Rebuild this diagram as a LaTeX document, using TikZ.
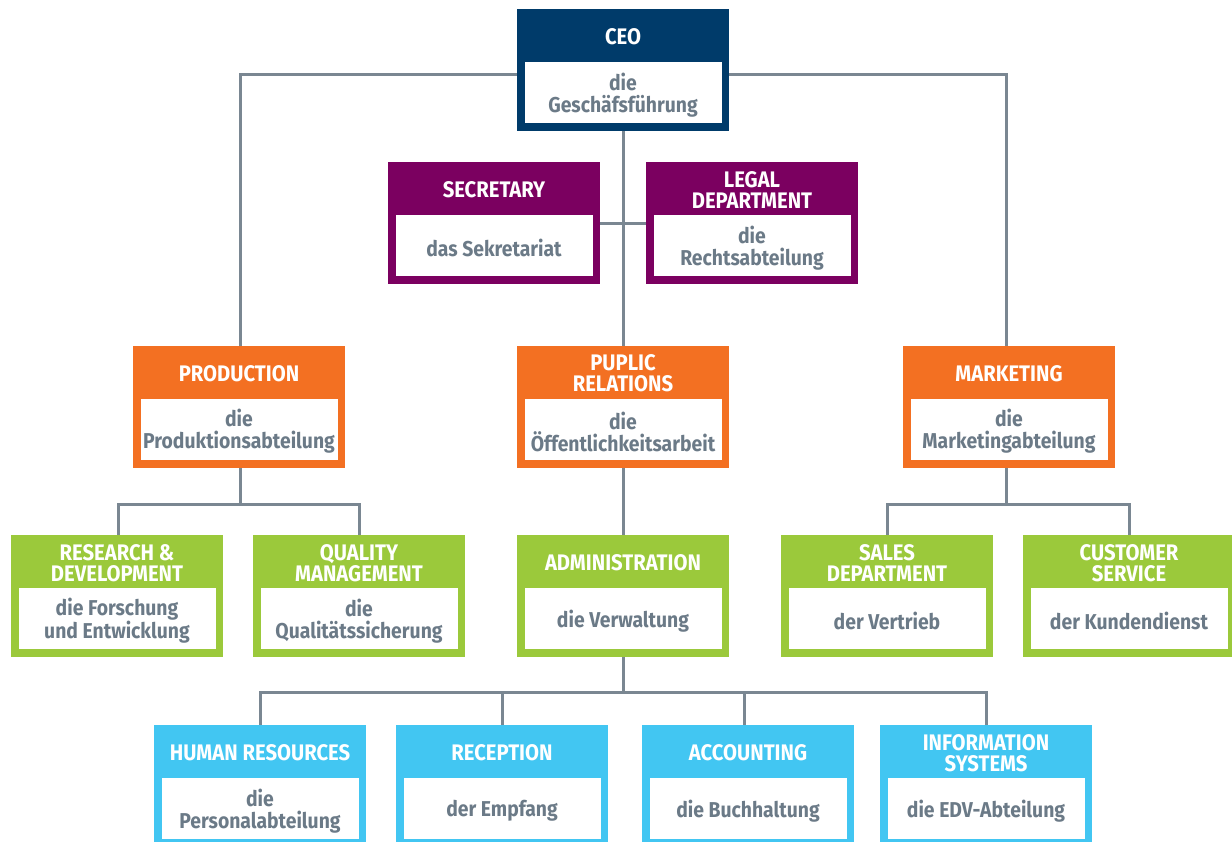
\documentclass[tikz,border=0pt]{standalone}
\usepackage{fontspec}
\setmainfont{Fira Sans}[FakeStretch=0.9]
\usetikzlibrary{positioning}

\definecolor{ceoblue}{HTML}{003B6A}
\definecolor{staffpurple}{HTML}{7B0060}
\definecolor{deptorange}{HTML}{F37022}
\definecolor{unitgreen}{HTML}{9BC93B}
\definecolor{teamcyan}{HTML}{42C6F2}
\definecolor{textgray}{HTML}{6B7A87}
\definecolor{linegray}{HTML}{7A8792}

\tikzset{
  unit/.style={rectangle, minimum width=212pt, minimum height=122pt, inner sep=0pt},
  plate/.style={rectangle, fill=white, minimum width=197pt, minimum height=61pt, inner sep=0pt},
  sub/.style={align=center, text=textgray, inner sep=0pt,
    font=\bfseries\fontsize{21.5}{22}\selectfont},
  head/.style={align=center, text=white, inner sep=0pt,
    font=\bfseries\fontsize{22.5}{21}\selectfont},
  link/.style={linegray, line width=3pt},
}

% name, centre, colour, english title, german subtitle
\newcommand{\unitbox}[5]{%
  \node[unit, fill=#3] (#1) at (#2) {};
  \node[plate, above=8pt of #1.south] (#1-pl) {};
  \node[sub] (#1-de) at ([yshift=-2.5pt]#1-pl.center) {#5};
  \node[head] (#1-en) at ([yshift=-28pt]#1.north) {#4};
}

\begin{document}
\begin{tikzpicture}[x=1pt, y=-1pt]
\useasboundingbox[fill=white] (0,0) rectangle (1232,841);

% connectors first, boxes on top
\coordinate (ceobus) at (623,74);
\coordinate (prodbus) at (240,504);
\coordinate (markbus) at (1006,504);
\coordinate (admbus) at (623,692);

\draw[link] (240,346) |- (ceobus) -| (1006,346);
\draw[link] (623,131) -- (623,346);
\draw[link] (600,223) -- (646,223);
\draw[link] (240,467) -- (prodbus);
\draw[link] (118,535) |- (prodbus) -| (359,535);
\draw[link] (1006,467) -- (markbus);
\draw[link] (887,535) |- (markbus) -| (1129,535);
\draw[link] (623,467) -- (623,535);
\draw[link] (623,657) -- (admbus);
\draw[link] (260,725) |- (admbus) -| (986,725);
\draw[link] (502,725) -- (502,692);
\draw[link] (744,725) -- (744,692);

% top
\unitbox{ceo}{623,70}{ceoblue}{CEO}{die\\Geschäfsführung}
\unitbox{sec}{494,223}{staffpurple}{SECRETARY}{das Sekretariat}
\unitbox{legal}{752,223}{staffpurple}{LEGAL\\DEPARTMENT}{die\\Rechtsabteilung}

% departments
\unitbox{prod}{239,406.5}{deptorange}{PRODUCTION}{die\\Produktionsabteilung}
\unitbox{pr}{623,406.5}{deptorange}{PUPLIC\\RELATIONS}{die\\Öffentlichkeitsarbeit}
\unitbox{mark}{1009,406.5}{deptorange}{MARKETING}{die\\Marketingabteilung}

% units
\unitbox{rd}{117,596}{unitgreen}{RESEARCH \&\\DEVELOPMENT}{die Forschung\\und Entwicklung}
\unitbox{qm}{359,596}{unitgreen}{QUALITY\\MANAGEMENT}{die\\Qualitätssicherung}
\unitbox{adm}{623,596}{unitgreen}{ADMINISTRATION}{die Verwaltung}
\unitbox{sales}{887,596}{unitgreen}{SALES\\DEPARTMENT}{der Vertrieb}
\unitbox{cs}{1129,596}{unitgreen}{CUSTOMER\\SERVICE}{der Kundendienst}

% administration teams
\unitbox{hr}{260,786}{teamcyan}{HUMAN RESOURCES}{die\\Personalabteilung}
\unitbox{rec}{502,786}{teamcyan}{RECEPTION}{der Empfang}
\unitbox{acc}{748,786}{teamcyan}{ACCOUNTING}{die Buchhaltung}
\unitbox{is}{986,786}{teamcyan}{INFORMATION\\SYSTEMS}{die EDV-Abteilung}
\end{tikzpicture}
\end{document}
